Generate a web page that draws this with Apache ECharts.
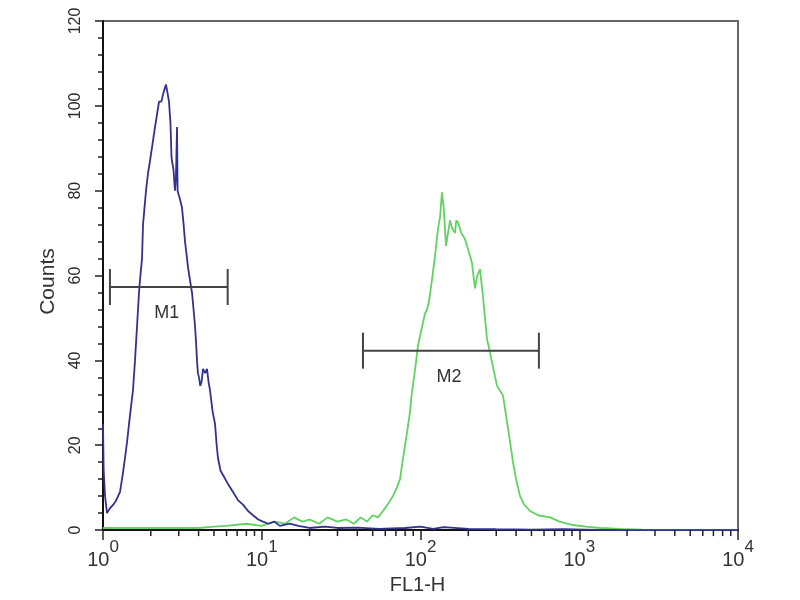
<!DOCTYPE html>
<html>
<head>
<meta charset="utf-8">
<script src="https://cdn.jsdelivr.net/npm/echarts@6/dist/echarts.min.js"></script>
<style>html,body{margin:0;padding:0;background:#fff;}#c{width:800px;height:600px;}</style>
</head>
<body>
<div id="c"></div>
<script>
// ---- data ----
const blueFL = [1.0,1.01,1.03,1.06,1.1,1.16,1.21,1.28,1.33,1.376,
  1.42,1.458,1.5,1.545,1.591,1.638,1.686,1.72,1.761,1.787,
  1.866,1.92,1.977,2.05,2.126,2.19,2.253,2.33,2.4,2.494,
  2.55,2.604,2.66,2.7,2.72,2.78,2.84,2.88,2.926,2.95,
  3.0,3.055,3.145,3.22,3.286,3.36,3.43,3.53,3.636,3.72,
  3.8,3.86,3.91,3.96,4.025,4.1,4.18,4.265,4.4,4.52,
  4.62,4.72,4.9,5.08,5.2,5.3,5.5,5.7,6.1,6.59,
  7.1,7.62,8.2,8.81,9.5,10.18,11,12,13,15,
  17,20,25,30,40,55,80,100,120,140,
  200,300,500,800,1500,10000];
const blueCounts = [25,14,8,4,5,6,7,9,13,17,
  21,25,29,33,40,48,56,60,64,72,
  80,84,87,91,95,98,101,101,103,105,
  103,101,96,88,87,85,80,83,95,80,
  79,78,76,72,68,65,62,59,56,52,
  48,44,40,37,36,34,35,38,37,38,
  35,33,28,25,20,17,14,13,11,9,
  7,6,4.5,3.5,2.5,2,1.5,2,1,1.5,
  1,0.5,0.8,0.5,0.6,0.3,0.5,0.8,0.3,0.7,
  0.3,0.2,0.1,0.2,0,0];
const greenFL = [1,2,3,4,5,6,8,10,12,14,
  16,18,20,23,26,30,34,38,42,46,
  50,54,58,62,67,71,74.3,77,79.9,83,
  85.9,88,91,94,96.4,101,106.7,110,113.2,118.1,
  123.4,128.9,133,136.5,140,144.8,149,153.4,159,164.9,
  168,172.3,181,190.6,200,210.9,220.3,228,237,247.6,
  262.4,270,282,303.4,331,355.8,382.6,400,423.6,450,
  489.8,550,654.6,750,913.6,1100,1352,1806,2500,10000];
const greenCounts = [0.5,0.5,0.5,0.5,0.8,1,1.5,1,2,1.5,
  3,2,2.5,1.5,3,2,2.5,1.5,3,2,
  3.5,3,4.5,6,8,10,12,16,20,24,
  28,32,36,40,43.5,47,51,52,54,59,
  64.6,71,74,79.6,76,67,70,73,71,70,
  73,72.5,70,68.6,66,63,57,60,61.5,55,
  45,43,39.6,34,31.7,24,16,12,8,6,
  4.5,3.5,3,2,1.2,0.8,0.5,0.3,0.1,0];
const gateNames = ['M1','M2'];
const gateLow = [1.106, 43.4];
const gateHigh = [6.1, 557];
const gateLevel = [57.3, 42.3];
const xTickExps = ['0','1','2','3','4'];
const xMinorTicks = [2,3,4,5,6,7,8,9,20,30,40,50,60,70,80,90,200,300,400,500,600,700,800,900,2000,3000,4000,5000,6000,7000,8000,9000];
const yTicks = [0,20,40,60,80,100,120];

const FONT = 'Liberation Sans, Arial, sans-serif';
const chart = echarts.init(document.getElementById('c'));
const pair = (xs, ys) => xs.map((x, i) => [x, ys[i]]);

chart.setOption({
  animation: false,
  backgroundColor: '#fff',
  textStyle: {fontFamily: FONT},
  grid: {left: 103, right: 62, top: 21, bottom: 67, show: true, borderColor: '#666', borderWidth: 2, backgroundColor: '#fff'},
  xAxis: {
    type: 'log', logBase: 10, min: 1, max: 10000,
    axisLine: {show: true, onZero: false, lineStyle: {color: '#111', width: 2}},
    axisTick: {show: true, length: 10, lineStyle: {color: '#222', width: 1.5}},
    splitLine: {show: false},
    axisLabel: {
      margin: 9,
      formatter: (v, i) => '{b|10}{s|' + xTickExps[i] + '}',
      rich: {
        b: {fontSize: 20, color: '#333', fontFamily: FONT, padding: [11, 0, 0, 0]},
        s: {fontSize: 17, color: '#333', fontFamily: FONT, verticalAlign: 'top'}
      }
    },
    name: 'FL1-H', nameLocation: 'middle', nameGap: 41,
    nameTextStyle: {fontSize: 20, color: '#333', fontFamily: FONT, padding: [0, 6, 0, 0]}
  },
  yAxis: {
    type: 'value', min: yTicks[0], max: yTicks[yTicks.length - 1], interval: 20,
    axisLine: {show: true, lineStyle: {color: '#111', width: 2}},
    axisTick: {show: true, length: 8, lineStyle: {color: '#222', width: 1.5}},
    minorTick: {show: true, splitNumber: 5, length: 5, lineStyle: {color: '#222', width: 1.5}},
    splitLine: {show: false},
    axisLabel: {rotate: 90, margin: 19, fontSize: 16, color: '#2a2a2a', fontFamily: FONT},
    name: 'Counts', nameLocation: 'middle', nameGap: 44, nameRotate: 90,
    nameTextStyle: {fontSize: 21, color: '#333', fontFamily: FONT, padding: [0, 12, 0, 0]}
  },
  series: [
    {
      type: 'line', name: 'green', data: pair(greenFL, greenCounts),
      showSymbol: false, symbol: 'none', silent: true,
      lineStyle: {color: '#62d262', width: 1.8}, z: 2
    },
    {
      type: 'line', name: 'blue', data: pair(blueFL, blueCounts),
      showSymbol: false, symbol: 'none', silent: true,
      lineStyle: {color: '#32328e', width: 1.8}, z: 3
    },
    {
      type: 'custom', silent: true, clip: false, z: 6,
      data: xMinorTicks.map(v => [v, 0]),
      encode: {x: 0, y: 1},
      renderItem: (params, api) => {
        const p = api.coord([api.value(0), 0]);
        return {type: 'line', shape: {x1: p[0], y1: p[1], x2: p[0], y2: p[1] + 6},
          style: {stroke: '#222', lineWidth: 1.5}};
      }
    },
    {
      type: 'custom', silent: true, clip: false, z: 7,
      data: gateLow.map((l, i) => [l, gateHigh[i], gateLevel[i], i]),
      encode: {x: [0, 1], y: 2},
      renderItem: (params, api) => {
        const i = api.value(3);
        const a = api.coord([api.value(0), api.value(2)]);
        const b = api.coord([api.value(1), api.value(2)]);
        const st = {stroke: '#444', lineWidth: 2};
        return {type: 'group', children: [
          {type: 'line', shape: {x1: a[0], y1: a[1], x2: b[0], y2: b[1]}, style: st},
          {type: 'line', shape: {x1: a[0], y1: a[1] - 18, x2: a[0], y2: a[1] + 18}, style: st},
          {type: 'line', shape: {x1: b[0], y1: b[1] - 18, x2: b[0], y2: b[1] + 18}, style: st},
          {type: 'text', x: (a[0] + b[0]) / 2 - 2, y: a[1] + 26,
            style: {text: gateNames[i], fontSize: 18, fill: '#333', fontFamily: FONT, align: 'center', verticalAlign: 'middle'}}
        ]};
      }
    }
  ]
});
</script>
</body>
</html>
